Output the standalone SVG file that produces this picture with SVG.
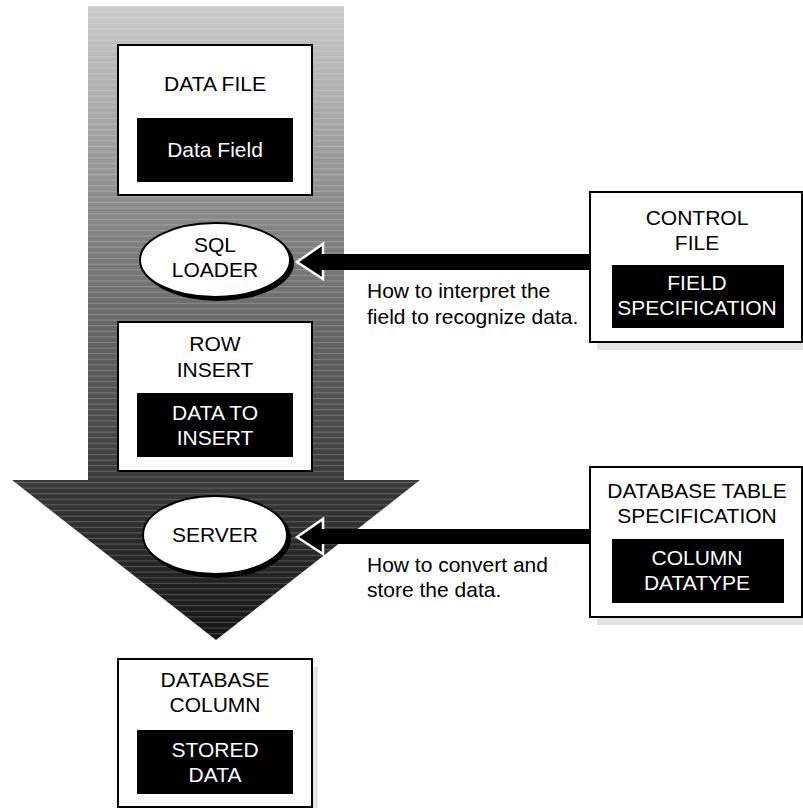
<svg xmlns="http://www.w3.org/2000/svg" width="803" height="808" viewBox="0 0 803 808">
<defs>
<linearGradient id="bigGrad" gradientUnits="userSpaceOnUse" x1="0" y1="6" x2="0" y2="640">
<stop offset="0" stop-color="#cbcbcb"/>
<stop offset="0.4" stop-color="#7a7a7a"/>
<stop offset="0.75" stop-color="#3a3a3a"/>
<stop offset="1" stop-color="#141414"/>
</linearGradient>
<pattern id="stripes" patternUnits="userSpaceOnUse" x="0" y="6" width="10" height="5.6">
<rect x="0" y="0" width="10" height="1" fill="#ffffff" fill-opacity="0.22"/>
</pattern>
</defs>
<style>
text{font-family:"Liberation Sans",Arial,sans-serif;font-size:21px;text-anchor:middle;}
.dark{fill:#000;}
.light{fill:#fff;}
.box{fill:#fff;stroke:#000;stroke-width:2;}
.shadow{fill:#e3e3e3;}
.inner{fill:#000;}
.lbl{text-anchor:start;fill:#000;}
.ell{fill:#fff;stroke:#000;stroke-width:2;}
.head{fill:#000;stroke:#fff;stroke-width:2.5;stroke-linejoin:miter;}
</style>
<g id="flow-arrow">
<path d="M88,6 H344 V480 H420 L216,640 L12,480 H88 Z" fill="url(#bigGrad)"/>
<path d="M88,6 H344 V480 H420 L216,640 L12,480 H88 Z" fill="url(#stripes)"/>
</g>
<g id="data-file">
<rect class="box" x="118" y="45" width="194" height="150"/>
<rect class="inner" x="137" y="118" width="156" height="64"/>
<text class="dark" x="215" y="91">DATA FILE</text>
<text class="light" x="215" y="157">Data Field</text>
</g>
<g id="sql-loader">
<ellipse cx="218" cy="263" rx="76" ry="38" fill="#000"/>
<ellipse class="ell" cx="215" cy="260" rx="75" ry="37"/>
<text class="dark" x="215" y="252">SQL</text>
<text class="dark" x="215" y="277">LOADER</text>
</g>
<g id="row-insert">
<rect class="box" x="118" y="322" width="194" height="149"/>
<rect class="inner" x="137" y="393" width="156" height="64"/>
<text class="dark" x="215" y="351">ROW</text>
<text class="dark" x="215" y="377">INSERT</text>
<text class="light" x="215" y="420">DATA TO</text>
<text class="light" x="215" y="445">INSERT</text>
</g>
<g id="server">
<ellipse cx="218" cy="538" rx="73" ry="40" fill="#000"/>
<ellipse class="ell" cx="215" cy="535" rx="72" ry="39"/>
<text class="dark" x="215" y="542">SERVER</text>
</g>
<g id="control-file">
<rect class="shadow" x="597" y="200" width="206" height="150"/>
<rect class="box" x="590" y="192" width="212" height="150"/>
<rect class="inner" x="612" y="265" width="172" height="63"/>
<text class="dark" x="697" y="225">CONTROL</text>
<text class="dark" x="697" y="250">FILE</text>
<text class="light" x="697" y="290">FIELD</text>
<text class="light" x="697" y="315">SPECIFICATION</text>
</g>
<g id="db-table-spec">
<rect class="shadow" x="597" y="475" width="206" height="150"/>
<rect class="box" x="590" y="467" width="212" height="150"/>
<rect class="inner" x="612" y="539" width="172" height="64"/>
<text class="dark" x="697" y="498">DATABASE TABLE</text>
<text class="dark" x="697" y="523">SPECIFICATION</text>
<text class="light" x="697" y="565">COLUMN</text>
<text class="light" x="697" y="590">DATATYPE</text>
</g>
<g id="db-column">
<rect class="shadow" x="124" y="667" width="194" height="141"/>
<rect class="box" x="118" y="659" width="194" height="148"/>
<rect class="inner" x="137" y="730" width="156" height="64"/>
<text class="dark" x="215" y="687">DATABASE</text>
<text class="dark" x="215" y="712">COLUMN</text>
<text class="light" x="215" y="757">STORED</text>
<text class="light" x="215" y="782">DATA</text>
</g>
<g id="connectors">
<polygon class="head" points="297,262 323,244 323,279"/>
<rect x="320" y="254" width="270" height="16" fill="#000"/>
<polygon class="head" points="297,537 323,519 323,554"/>
<rect x="320" y="529" width="270" height="15" fill="#000"/>
<text class="lbl" x="367" y="298">How to interpret the</text>
<text class="lbl" x="367" y="324">field to recognize data.</text>
<text class="lbl" x="367" y="572">How to convert and</text>
<text class="lbl" x="367" y="597">store the data.</text>
</g>
</svg>
